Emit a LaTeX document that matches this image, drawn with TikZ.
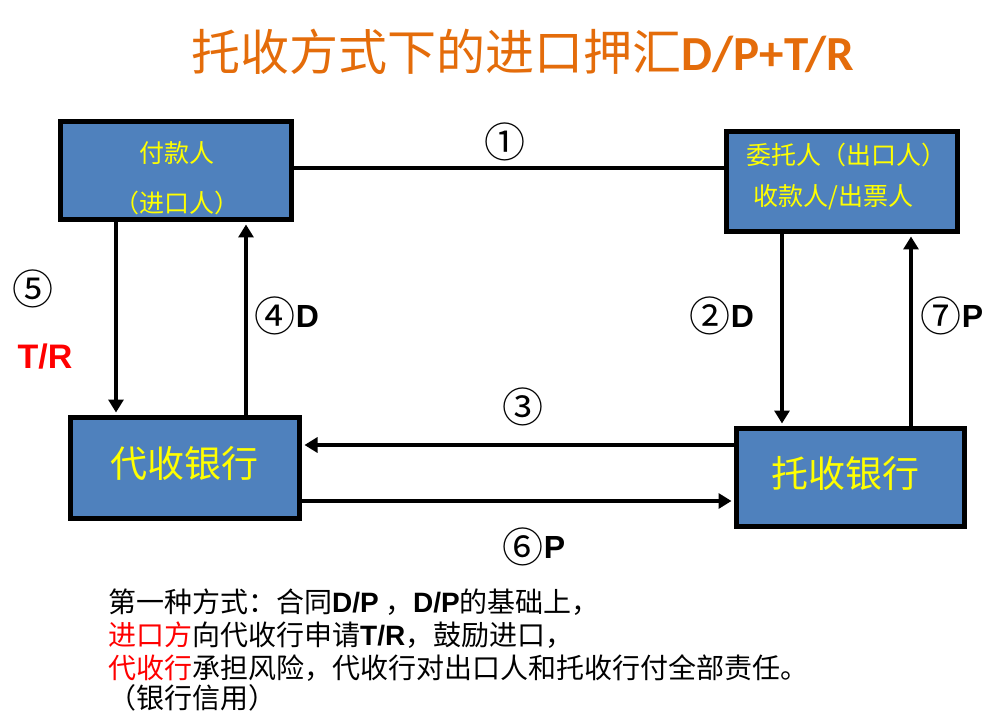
\documentclass[tikz,border=0pt]{standalone}
\usepackage{fontspec}
\setmainfont{Liberation Sans}
\newfontfamily\cjk{Noto Sans CJK SC}
\newfontfamily\titlelat{Carlito}
\usetikzlibrary{arrows.meta}
\definecolor{boxblue}{HTML}{4F81BD}
\definecolor{titleorange}{HTML}{E46C0A}
\definecolor{txtred}{HTML}{FF0000}
\definecolor{txtyellow}{HTML}{FFFF00}
\newcommand\latb[1]{{\normalfont\bfseries #1}}
\newcommand\circd[1]{{\cjk\fontsize{41}{44}\selectfont #1}}
\newcommand\uplb[1]{\raisebox{4.5pt}{\latb{#1}}}
\begin{document}
\begin{tikzpicture}[x=1pt,y=-1pt,
  box/.style={draw=black, line width=5pt, fill=boxblue, inner sep=0pt},
  boxtext/.style={text=txtyellow, font=\cjk\fontsize{25}{30}\selectfont, inner sep=0pt},
  banktext/.style={text=txtyellow, font=\cjk\fontsize{37}{44}\selectfont, inner sep=0pt},
  conn/.style={line width=4.5pt},
  arr/.style={conn, -{Triangle[width=15pt,length=13pt]}, shorten >=2.5pt},
  lbl/.style={font=\fontsize{32}{36}\selectfont, inner sep=0pt},
  note/.style={anchor=west, font=\cjk\fontsize{28}{32}\selectfont, inner sep=0pt}]
\fill[white] (0,0) rectangle (1002,722);
\useasboundingbox (0,0) rectangle (1002,722);

% title
\node[inner sep=0pt, text=titleorange, font=\fontsize{49}{56}\selectfont] (title) at (523,52)
  {{\cjk 托收方式下的进口押汇}{\titlelat\bfseries D/P+T/R}};

% boxes
\node[box, minimum width=231pt, minimum height=98pt] (payer) at (176,170.5) {};
\node[box, minimum width=231pt, minimum height=100pt] (cons) at (842,181.5) {};
\node[box, minimum width=229pt, minimum height=101pt] (collect) at (185,468) {};
\node[box, minimum width=228pt, minimum height=98pt] (remit) at (850.5,477.5) {};

% box texts
\node[boxtext] (payerA) at (177,153) {付款人};
\node[boxtext] (payerB) at (177,203) {（进口人）};
\node[boxtext, anchor=west] (consA) at (746,155) {委托人（出口人）};
\node[boxtext, anchor=west] (consB) at (753,197) {收款人/出票人};
\node[banktext] (collectT) at (184,463) {代收银行};
\node[banktext] (remitT) at (845,473) {托收银行};

% connectors
\coordinate (yone) at (0,168);
\draw[conn] (payer.east |- yone) -- (cons.west |- yone);
\draw[arr] ([xshift=-60pt]payer.south) -- ([xshift=-60pt]payer.south |- collect.north);
\draw[arr] ([xshift=61pt]collect.north) -- ([xshift=61pt]collect.north |- payer.south);
\draw[arr] ([xshift=-60pt]cons.south) -- ([xshift=-60pt]cons.south |- remit.north);
\draw[arr] ([xshift=60.5pt]remit.north) -- ([xshift=60.5pt]remit.north |- cons.south);
\draw[arr] ([yshift=32.5pt]remit.west) -- ([yshift=32.5pt]remit.west -| collect.east);
\draw[arr] ([yshift=-33pt]collect.east) -- ([yshift=-33pt]collect.east -| remit.west);

% labels
\node[lbl] (l1) at (505,142) {\circd{①}};
\node[lbl] (l2) at (722,316) {\circd{②}\uplb{D}};
\node[lbl] (l3) at (523,407) {\circd{③}};
\node[lbl] (l4) at (287,316) {\circd{④}\uplb{D}};
\node[lbl] (l5) at (33,289) {\circd{⑤}};
\node[inner sep=0pt, text=txtred, font=\fontsize{34}{40}\selectfont\bfseries] (l5b) at (45,357) {T/R};
\node[lbl] (l6) at (534,547) {\circd{⑥}\uplb{P}};
\node[lbl] (l7) at (952,316) {\circd{⑦}\uplb{P}};

% notes
\node[note] (n1) at (108,602) {第一种方式：合同\latb{D/P} ，\latb{D/P}的基础上，};
\node[note] (n2) at (108,635) {{\color{txtred}进口方}向代收行申请\latb{T/R}，鼓励进口，};
\node[note] (n3) at (108,668) {{\color{txtred}代收行}承担风险，代收行对出口人和托收行付全部责任。};
\node[note] (n4) at (108,698) {（银行信用）};
\end{tikzpicture}
\end{document}
